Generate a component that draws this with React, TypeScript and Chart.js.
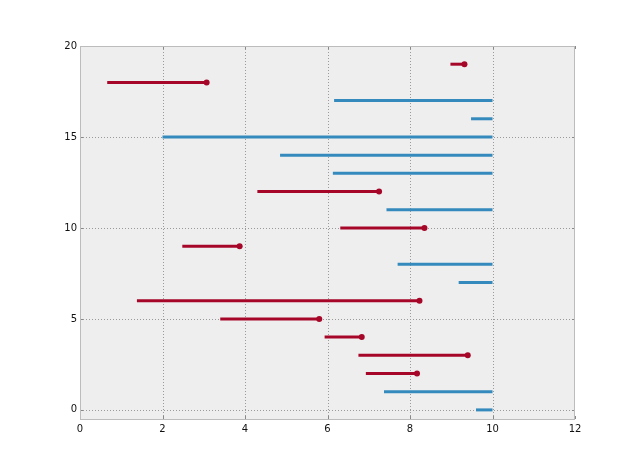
import { useEffect, useRef } from "react";
import { Chart, registerables } from "chart.js";

Chart.register(...registerables);

// Row index (subject) for each lifetime segment
const rowIndex = [0, 1, 2, 3, 4, 5, 6, 7, 8, 9, 10, 11, 12, 13, 14, 15, 16, 17, 18, 19];
// Birth times
const startTimes = [9.6, 7.37, 6.93, 6.75, 5.93, 3.4, 1.38, 9.18, 7.7, 2.48, 6.31, 7.43, 4.3, 6.13, 4.85, 2.0, 9.48, 6.16, 0.66, 8.98];
// Death (observed) or current time (censored)
const endTimes = [10, 10, 8.17, 9.4, 6.83, 5.8, 8.23, 10, 10, 3.87, 8.35, 10, 7.25, 10, 10, 10, 10, 10, 3.07, 9.32];
// Whether the death was observed
const observed = [false, false, true, true, true, true, true, false, false, true, true, false, true, false, false, false, false, false, true, true];

const xTicks = [0, 2, 4, 6, 8, 10, 12];
const yTicks = [0, 5, 10, 15, 20];

const RED = "#A60628";
const BLUE = "#348ABD";

const framePlugin = {
  id: "frame",
  beforeDraw(chart: any) {
    const { ctx, chartArea: a } = chart;
    ctx.save();
    ctx.fillStyle = "#EEEEEE";
    ctx.fillRect(a.left, a.top, a.right - a.left, a.bottom - a.top);
    ctx.restore();
  },
  beforeDatasetsDraw(chart: any) {
    const { ctx, chartArea: a, scales } = chart;
    ctx.save();
    ctx.strokeStyle = "#9a9a9a";
    ctx.lineWidth = 1;
    ctx.setLineDash([1, 2]);
    for (const v of xTicks) {
      const x = Math.round(scales.x.getPixelForValue(v)) + 0.5;
      if (x <= a.left + 1 || x >= a.right - 1) continue;
      ctx.beginPath();
      ctx.moveTo(x, a.top);
      ctx.lineTo(x, a.bottom);
      ctx.stroke();
    }
    for (const v of yTicks) {
      const y = Math.round(scales.y.getPixelForValue(v)) + 0.5;
      if (y <= a.top + 1 || y >= a.bottom - 1) continue;
      ctx.beginPath();
      ctx.moveTo(a.left, y);
      ctx.lineTo(a.right, y);
      ctx.stroke();
    }
    ctx.setLineDash([]);
    ctx.strokeStyle = "#888888";
    for (const v of xTicks) {
      const x = Math.round(scales.x.getPixelForValue(v)) + 0.5;
      ctx.beginPath();
      ctx.moveTo(x, a.bottom);
      ctx.lineTo(x, a.bottom - 3);
      ctx.moveTo(x, a.top);
      ctx.lineTo(x, a.top + 3);
      ctx.stroke();
    }
    for (const v of yTicks) {
      const y = Math.round(scales.y.getPixelForValue(v)) + 0.5;
      ctx.beginPath();
      ctx.moveTo(a.left, y);
      ctx.lineTo(a.left + 3, y);
      ctx.moveTo(a.right, y);
      ctx.lineTo(a.right - 3, y);
      ctx.stroke();
    }
    ctx.restore();
  },
  afterDatasetsDraw(chart: any) {
    const { ctx, chartArea: a } = chart;
    ctx.save();
    ctx.strokeStyle = "#BCBCBC";
    ctx.lineWidth = 1;
    ctx.strokeRect(Math.round(a.left) + 0.5, Math.round(a.top) + 0.5, Math.round(a.right - a.left) - 1, Math.round(a.bottom - a.top));
    ctx.restore();
  },
};

export default function App() {
  const canvasRef = useRef<HTMLCanvasElement | null>(null);

  useEffect(() => {
    const canvas = canvasRef.current;
    if (!canvas) return;
    const datasets = rowIndex.map((row, i) => ({
      data: [
        { x: startTimes[i], y: row },
        { x: endTimes[i], y: row },
      ],
      borderColor: observed[i] ? RED : BLUE,
      backgroundColor: observed[i] ? RED : BLUE,
      borderWidth: 3,
      borderCapStyle: "butt" as const,
      pointRadius: observed[i] ? [0, 3] : [0, 0],
      pointHoverRadius: 0,
      pointBorderWidth: 0,
      pointBackgroundColor: observed[i] ? RED : BLUE,
      fill: false,
      tension: 0,
    }));

    const chart = new Chart(canvas, {
      type: "line",
      data: { datasets },
      plugins: [framePlugin],
      options: {
        animation: false,
        responsive: false,
        maintainAspectRatio: false,
        events: [],
        layout: { padding: { top: 46, right: 65, left: 0, bottom: 0 } },
        plugins: { legend: { display: false }, tooltip: { enabled: false } },
        scales: {
          x: {
            type: "linear",
            min: 0,
            max: 12,
            grid: { display: false, drawTicks: false },
            border: { display: false },
            afterBuildTicks: (scale: any) => {
              scale.ticks = xTicks.map((v) => ({ value: v }));
            },
            afterFit: (scale: any) => {
              scale.height = 47;
            },
            ticks: {
              color: "#111",
              padding: 4,
              font: { family: "DejaVu Sans", size: 10 },
              maxRotation: 0,
              callback: (v: any) => String(v),
            },
          },
          y: {
            type: "linear",
            min: -0.5,
            max: 20,
            grid: { display: false, drawTicks: false },
            border: { display: false },
            afterBuildTicks: (scale: any) => {
              scale.ticks = yTicks.map((v) => ({ value: v }));
            },
            afterFit: (scale: any) => {
              scale.width = 80;
            },
            ticks: {
              color: "#111",
              padding: 3,
              font: { family: "DejaVu Sans", size: 10 },
              callback: (v: any) => String(v),
            },
          },
        },
      },
    });
    return () => chart.destroy();
  }, []);

  return (
    <div style={{ position: "absolute", left: 0, top: 0, width: 640, height: 466, background: "#fff" }}>
      <canvas ref={canvasRef} width={640} height={466} style={{ display: "block", width: 640, height: 466 }} />
    </div>
  );
}
